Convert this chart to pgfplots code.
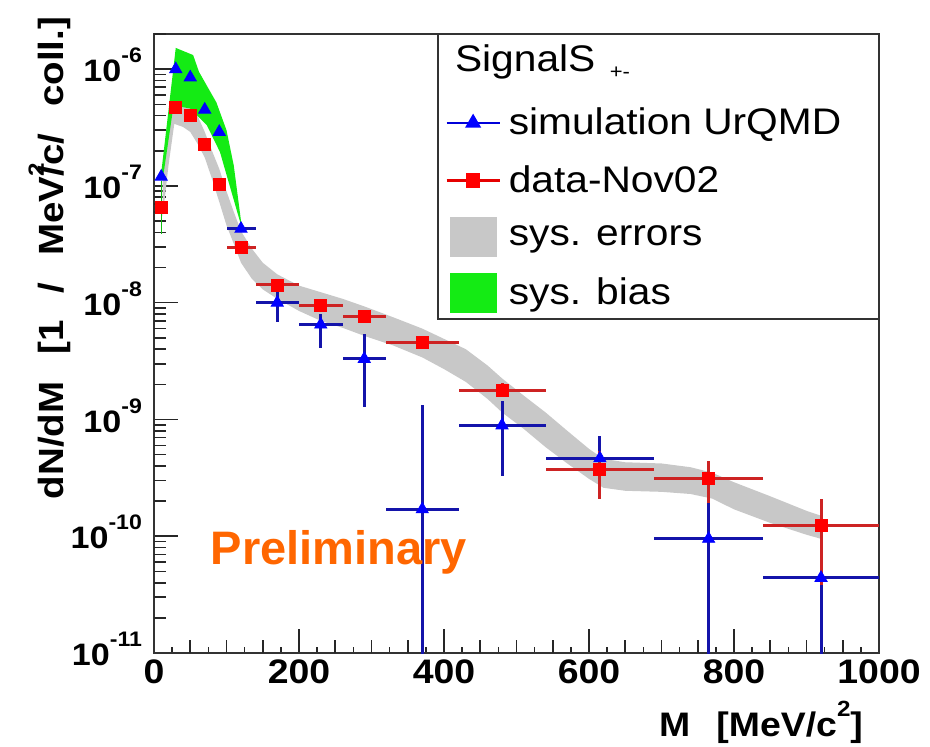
\documentclass[border=0pt]{standalone}
\usepackage{fontspec}
\setmainfont{Liberation Sans}
\usepackage{graphicx}
\usepackage{pgfplots}
\usepackage{pgfplotstable}
\pgfplotsset{compat=1.18}
\definecolor{sysgray}{RGB}{200,200,200}
\definecolor{sysgreen}{RGB}{20,235,20}
\definecolor{bluebar}{RGB}{20,20,170}
\definecolor{bluemark}{RGB}{0,0,255}
\definecolor{redbar}{RGB}{205,35,35}
\definecolor{redmark}{RGB}{255,0,0}
\definecolor{prelim}{RGB}{255,102,0}
\newcommand{\hs}[1]{\scalebox{1.1}[1]{#1}}
\newcommand{\yl}[1]{\hs{10\raisebox{9.5pt}{\fontsize{10.5}{10.5}\selectfont #1}}}
\pgfplotsset{
  lineleg/.style={legend image code/.code={%
    \path (0pt,-13.5pt) (26.5pt,14pt);
    \draw[mark repeat=2,mark phase=2,##1] plot coordinates {(0pt,0pt) (13.25pt,0pt) (26.5pt,0pt)};}},
  boxleg/.style={legend image code/.code={%
    \path (0pt,-13.5pt) (26.5pt,14pt);
    \fill[##1, draw=none] (1.5pt,-10pt) rectangle (25pt,10pt);}},
}
\pgfplotstableread{
x y ex eyp eym
10 1.2e-7 0 0 0
30 1.0e-6 0 0 0
50 8.5e-7 0 0 0
70 4.5e-7 0 0 0
90 2.9e-7 0 0 0
120 4.3e-8 20 0 0
170 1.0e-8 30 2.3e-9 3.1e-9
230 6.5e-9 30 1.5e-9 2.44e-9
290 3.3e-9 30 2.1e-9 2.02e-9
370 1.7e-10 50 1.16e-9 1.65e-10
480 8.9e-10 60 5.5e-10 5.6e-10
615 4.65e-10 75 2.55e-10 1.85e-10
765 9.5e-11 75 1.35e-10 9.0e-11
920 4.4e-11 80 7.6e-11 3.9e-11
}\bluedata
\pgfplotstableread{
x y ex eyp eym
10 6.6e-8 0 0 0
30 4.7e-7 0 0 0
50 4.0e-7 0 0 0
70 2.25e-7 0 0 0
90 1.04e-7 0 0 0
120 2.95e-8 20 0 0
170 1.42e-8 30 0 0
230 9.4e-9 30 0 0
290 7.6e-9 30 0 0
370 4.6e-9 50 0 0
480 1.76e-9 60 3e-10 0
615 3.75e-10 75 1.65e-10 1.68e-10
765 3.15e-10 75 1.25e-10 1.21e-10
920 1.24e-10 80 8.3e-11 8.6e-11
}\reddata
\begin{document}
\begin{tikzpicture}
\begin{axis}[
  scale only axis, width=362.5pt, height=309.5pt,
  xmin=0, xmax=1000, ymode=log, ymin=1e-11, ymax=2e-6,
  axis line style={line width=1pt, draw=black!80},
  tick align=inside, xtick pos=bottom, ytick pos=left,
  major tick length=12pt, minor tick length=3.2pt,
  every tick/.style={black!85, line width=0.8pt},
  xtick={0,200,400,600,800,1000},
  xticklabels={\hs{0},\hs{200},\hs{400},\hs{600},\hs{800},\hs{1000}},
  minor xtick={25,75,...,975},
  extra x ticks={50,100,150,250,300,350,450,500,550,650,700,750,850,900,950},
  extra x tick labels={},
  extra x tick style={major tick length=6.5pt},
  ytick={1e-11,1e-10,1e-9,1e-8,1e-7,1e-6},
  yticklabels={\yl{-11},\yl{-10},\yl{-9},\yl{-8},\yl{-7},\yl{-6}},
  extra y ticks={2e-11,3e-11,4e-11,5e-11,6e-11,7e-11,8e-11,9e-11,
    2e-10,3e-10,4e-10,5e-10,6e-10,7e-10,8e-10,9e-10,
    2e-9,3e-9,4e-9,5e-9,6e-9,7e-9,8e-9,9e-9,
    2e-8,3e-8,4e-8,5e-8,6e-8,7e-8,8e-8,9e-8,
    2e-7,3e-7,4e-7,5e-7,6e-7,7e-7,8e-7,9e-7,2e-6},
  extra y tick labels={},
  extra y tick style={major tick length=6pt},
  xticklabel style={font=\bfseries\fontsize{17}{17}\selectfont},
  yticklabel style={font=\bfseries\fontsize{15.5}{15.5}\selectfont, anchor=base east, yshift=-6.3pt, xshift=-2.5pt},
  xlabel={\hs{M\hspace{0.7em}[MeV/c\raisebox{0.6em}{\fontsize{11}{11}\selectfont 2}]}},
  xlabel style={font=\bfseries\fontsize{17}{17}\selectfont, at={(axis description cs:0.9876,-0.135)}, anchor=base east},
  ylabel={\hs{dN/dM\hspace{0.7em}[1\hspace{0.7em}/\hspace{0.7em}MeV\rlap{\raisebox{0.55em}{\fontsize{11}{11}\selectfont 2}}/c/\hspace{0.7em}coll.]}},
  ylabel style={font=\bfseries\fontsize{17.5}{17.5}\selectfont, at={(axis description cs:-0.1255,1.039)}, anchor=base east},
  legend style={at={(0.4014,0.904)}, anchor=north west, draw=none, fill=none,
    inner sep=0pt, row sep=0pt, font=\fontsize{18.5}{22}\selectfont,
    nodes={inner sep=0pt},
    /tikz/every odd column/.append style={column sep=4pt}},
  legend cell align=left,
]
% systematic error band (gray)
\addplot[fill=sysgray, draw=none, forget plot] coordinates {
(12,1.1e-7) (20,3.2e-7) (28,5.8e-7) (40,5.5e-7) (50,4.9e-7) (60,4.0e-7) (70,2.9e-7)
(80,2.0e-7) (90,1.4e-7) (100,9e-8) (110,6e-8) (120,4.1e-8) (135,2.9e-8) (150,2.2e-8)
(170,1.75e-8) (200,1.4e-8) (230,1.23e-8) (260,1.08e-8) (290,9.3e-9) (330,7.5e-9)
(370,6.0e-9) (400,4.9e-9) (430,4.0e-9) (460,2.9e-9) (480,2.25e-9) (510,1.6e-9)
(540,1.15e-9) (570,8e-10) (600,5.6e-10) (620,4.6e-10) (650,4.3e-10) (700,4.2e-10)
(740,3.9e-10) (770,3.5e-10) (800,2.9e-10) (850,2.2e-10) (900,1.65e-10) (920,1.5e-10)
(920,9.5e-11) (900,1.03e-10) (850,1.3e-10) (800,1.7e-10) (770,2.1e-10) (740,2.3e-10)
(700,2.4e-10) (650,2.45e-10) (620,2.6e-10) (600,3.1e-10) (570,4.2e-10) (540,5.8e-10)
(510,8.3e-10) (480,1.15e-9) (460,1.5e-9) (430,2.1e-9) (400,2.7e-9) (370,3.4e-9)
(330,4.3e-9) (290,5.2e-9) (260,6.1e-9) (230,7.0e-9) (200,8.5e-9) (170,1.08e-8)
(150,1.3e-8) (135,1.6e-8) (120,2.2e-8) (110,3.2e-8) (100,4.6e-8) (90,7.3e-8)
(80,1.15e-7) (70,1.75e-7) (60,2.3e-7) (50,2.9e-7) (40,3.2e-7) (28,3.4e-7)
(20,1.5e-7) (12,5.5e-8)} -- cycle;
% systematic bias band (green)
\addplot[fill=sysgreen, draw=none, forget plot] coordinates {
(10,1.3e-7) (30,1.52e-6) (54,1.32e-6) (62,9.5e-7) (73,7.2e-7) (86,5.2e-7) (100,3.0e-7)
(110,1.5e-7) (121,4.5e-8) (121,4.4e-8) (91,1.95e-7) (73,3.3e-7) (50,4.6e-7) (27,4.9e-7)
(13,1.25e-7) (10,1.1e-7)} -- cycle;
\addplot[sysgreen!80!black, line width=0.6pt, forget plot] coordinates {(10,3.9e-8) (10,1.1e-7)};
% simulation UrQMD
\addplot[only marks, mark=triangle*, mark size=3.5pt, mark options={fill=bluemark, draw=bluemark},
  forget plot,
  error bars/.cd, x dir=both, x explicit, y dir=both, y explicit, error mark=none,
  error bar style={line width=1.5pt, draw=bluebar}]
  table[x=x, y=y, x error=ex, y error plus=eyp, y error minus=eym] {\bluedata};
% data Nov02
\addplot[only marks, mark=square*, mark size=3pt, mark options={fill=redmark, draw=redmark},
  forget plot,
  error bars/.cd, x dir=both, x explicit, y dir=both, y explicit, error mark=none,
  error bar style={line width=1.5pt, draw=redbar}]
  table[x=x, y=y, x error=ex, y error plus=eyp, y error minus=eym] {\reddata};
% legend box and title
\draw[line width=1pt, draw=black!80, fill=white] (rel axis cs:0.3917,0.5396) rectangle (rel axis cs:1,1);
\node[anchor=base west, font=\fontsize{18.5}{18.5}\selectfont] at (rel axis cs:0.4055,0.9392) {\hs{SignalS}};
\node[anchor=base west, font=\fontsize{10}{10}\selectfont] at (rel axis cs:0.619,0.9273) {\hs{+-}};
\node[anchor=base, font=\bfseries\fontsize{23.5}{23.5}\selectfont, text=prelim] at (axis cs:255,5.7e-11) {Preliminary};
\addlegendimage{lineleg, draw=bluemark!85!black, line width=1.2pt, mark=triangle*, mark size=3.5pt, mark options={fill=bluemark, draw=bluemark}}
\addlegendentry{\hs{simulation UrQMD}}
\addlegendimage{lineleg, draw=redmark!90!black, line width=1.2pt, mark=square*, mark size=3pt, mark options={fill=redmark, draw=redmark}}
\addlegendentry{\hs{data-Nov02}}
\addlegendimage{boxleg, fill=sysgray}
\addlegendentry{\hs{sys. errors}}
\addlegendimage{boxleg, fill=sysgreen}
\addlegendentry{\hs{sys. bias}}
\end{axis}
\pgfresetboundingbox
\path ([shift={(-77pt,-47pt)}]current axis.south west) rectangle ([shift={(25.5pt,17pt)}]current axis.north east);
\end{tikzpicture}
\end{document}
